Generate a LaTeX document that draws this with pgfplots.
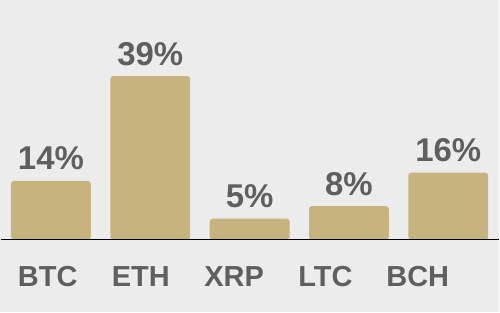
\documentclass[border=0pt]{standalone}
\usepackage{pgfplots}
\pgfplotsset{compat=1.18}
\usepackage{fontspec}
\setmainfont{Liberation Sans}
\definecolor{bg}{HTML}{ECECEC}
\definecolor{barc}{HTML}{C6B37E}
\definecolor{txt}{HTML}{5F5F5F}
\tikzset{catlab/.style={anchor=base, font=\fontsize{14.5}{16}\selectfont\bfseries, text=txt, inner sep=0pt}}
\begin{document}
\begin{tikzpicture}
\begin{axis}[
  scale only axis,
  width=250pt, height=156.5pt,
  xmin=-0.5126, xmax=4.5126,
  ymin=-17.38, ymax=57.14,
  axis line style={draw=none},
  axis background/.style={fill=bg},
  xtick=\empty, ytick=\empty,
  ybar, bar width=40pt,
  clip=false,
  /pgf/number format/assume math mode=true,
  nodes near coords={\pgfmathprintnumber{\pgfplotspointmeta}\%},
  nodes near coords style={font=\fontsize{16.5}{18}\selectfont\bfseries, text=txt, anchor=base, yshift=5.5pt, inner sep=0pt},
]
\addplot[fill=barc, draw=none, rounded corners=1.5pt] coordinates {(0,14) (1,39) (2,5) (3,8) (4,16)};
\draw[black, line width=0.8pt] (axis cs:-0.503,0) -- (axis cs:4.5126,0);
\node[catlab] at (axis cs:-0.032,-11.19) {BTC};
\node[catlab] at (axis cs:0.9045,-11.19) {ETH};
\node[catlab] at (axis cs:1.844,-11.19) {XRP};
\node[catlab] at (axis cs:2.764,-11.19) {LTC};
\node[catlab] at (axis cs:3.693,-11.19) {BCH};
\end{axis}
\end{tikzpicture}
\end{document}
